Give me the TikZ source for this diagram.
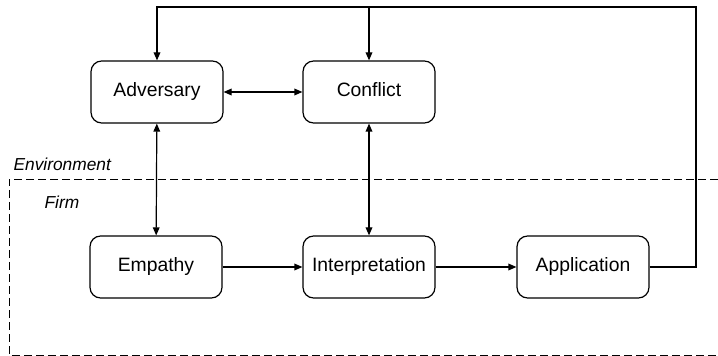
\documentclass[tikz,border=0pt]{standalone}
\usepackage{fontspec}
\setmainfont{Liberation Sans}
\usetikzlibrary{arrows.meta}

\tikzset{every picture/.style={line width=0.9pt}}
\tikzset{stagebox/.style={draw, rounded corners=8pt, minimum width=99pt, minimum height=46.5pt, inner sep=0pt, text height=10.5pt, text depth=3pt, font=\fontsize{14.5}{17}\selectfont},
  zonelabel/.style={anchor=west, inner sep=0pt, font=\fontsize{13}{15}\selectfont\itshape},
  flow/.style={-{Triangle[length=6pt,width=5pt]}},
  twoway/.style={{Triangle[length=6pt,width=5pt]}-{Triangle[length=6pt,width=5pt]}}}

\begin{document}
\begin{tikzpicture}[x=0.75pt,y=0.75pt,yscale=-1,xscale=1]
	\useasboundingbox (0,0) rectangle (718,356);

	%Shape: Dashed boundary of the firm
	\draw [dashed, dash pattern=on 6pt off 3pt, line width=0.6pt] (718,179) -- (9,179) -- (9,355) -- (718,355) ;

	% Text Node
	\node [zonelabel] (envlabel) at (13,164) {Environment};
	% Text Node
	\node [zonelabel] (firmlabel) at (44,202) {Firm};

	%Shape: Boxes
	\node [stagebox] (adversary) at (157,92) {Adversary};
	\node [stagebox] (conflict) at (369,92) {Conflict};
	\node [stagebox] (empathy) at (156,267) {Empathy};
	\node [stagebox] (interp) at (369,267) {Interpretation};
	\node [stagebox] (application) at (583,267) {Application};

	%Feedback corners
	\coordinate (fbright) at (696,267);
	\coordinate (fbtop) at (696,7);
	\coordinate (fbconflict) at (369,7);
	\coordinate (fbadversary) at (157,7);

	%Straight Lines
	\draw [twoway] (adversary) -- (conflict) ;
	\draw [twoway] (adversary) -- (empathy) ;
	\draw [twoway] (conflict) -- (interp) ;
	\draw [flow] (empathy) -- (interp) ;
	\draw [flow] (interp) -- (application) ;

	%Feedback loop
	\draw [flow] (application.east) -- (fbright) -- (fbtop) -- (fbadversary) -- (adversary.north) ;
	\draw [flow] (fbconflict) -- (conflict.north) ;

\end{tikzpicture}
\end{document}
